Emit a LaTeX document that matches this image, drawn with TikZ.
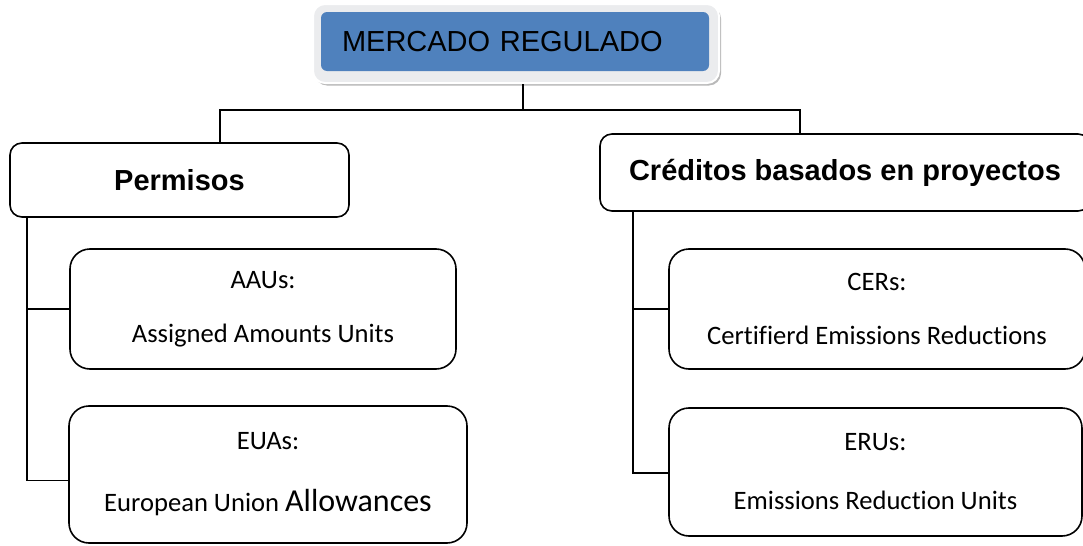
\documentclass[tikz,border=0pt]{standalone}
\usepackage{fontspec}
\setmainfont{Liberation Sans}
\newfontfamily\calibri[Ligatures=NoCommon]{Carlito}
\usetikzlibrary{positioning}
\definecolor{azulbox}{RGB}{79,129,189}
\definecolor{marcogris}{RGB}{235,236,238}

\begin{document}
\begin{tikzpicture}[x=0.5pt, y=-0.5pt,
    caja/.style={draw, line width=0.8pt, rounded corners=6pt, fill=white,
      font=\bfseries\fontsize{14.5}{17}\selectfont},
    hoja/.style={draw, line width=0.8pt, rounded corners=10pt, fill=white,
      align=center, font=\calibri\fontsize{13.3}{27}\selectfont},
    rama/.style={line width=0.8pt}]
    \useasboundingbox (0,0) rectangle (1083,546);
    % caja superior
    \node [fill=gray!55, rounded corners=6pt, minimum width=203pt, minimum height=39.5pt] (sombra) at (518,46) {};
    \node [fill=marcogris, draw=white, line width=1pt, rounded corners=6pt, minimum width=203pt, minimum height=39.5pt] (marco) at (516,43.5) {};
    \node [fill=azulbox, rounded corners=3pt, minimum width=194pt, minimum height=29.5pt,
      text width=173pt, inner xsep=10.5pt, align=left, font=\fontsize{14.5}{17}\selectfont] (titulo) at (515,41.5) {MERCADO REGULADO};
    % segundo nivel
    \node [caja, minimum width=169.5pt, minimum height=37pt] (perm) at (179.5,180) {Permisos};
    \node [caja, minimum width=245pt, minimum height=38.5pt] (cred) at (845,172.5) {Créditos basados en proyectos};
    % hojas
    \node [hoja, minimum width=193pt, minimum height=60pt] (aau) at (263,309) {AAUs:\\Assigned Amounts Units};
    \node [hoja, minimum width=199pt, minimum height=68.5pt, font=\calibri\fontsize{13.3}{31}\selectfont] (eua) at (268,474.5)
      {EUAs:\\European Union {\fontsize{16}{31}\selectfont Allowances}};
    \node [hoja, minimum width=208pt, minimum height=60pt] (cer) at (877,309) {CERs:\\Certifierd Emissions Reductions};
    \node [hoja, minimum width=206.5pt, minimum height=64pt, font=\calibri\fontsize{13.3}{29.5}\selectfont] (eru) at (875.5,472)
      {ERUs:\\Emissions Reduction Units};
    % conectores
    \coordinate (split) at (523,110);
    \draw [rama] (marco.south -| split) -- (split);
    \draw [rama] ([xshift=20.25pt]perm.north) |- (split) -| ([xshift=-22.5pt]cred.north);
    \coordinate (troncoI) at ([xshift=-76.25pt]perm.south);
    \coordinate (troncoD) at ([xshift=-106pt]cred.south);
    \draw [rama] (troncoI) |- ([yshift=-3pt]eua.west);
    \draw [rama] (aau.west) -- (aau.west -| troncoI);
    \draw [rama] (troncoD) |- ([yshift=-0.5pt]eru.west);
    \draw [rama] (cer.west) -- (cer.west -| troncoD);
\end{tikzpicture}
\end{document}
